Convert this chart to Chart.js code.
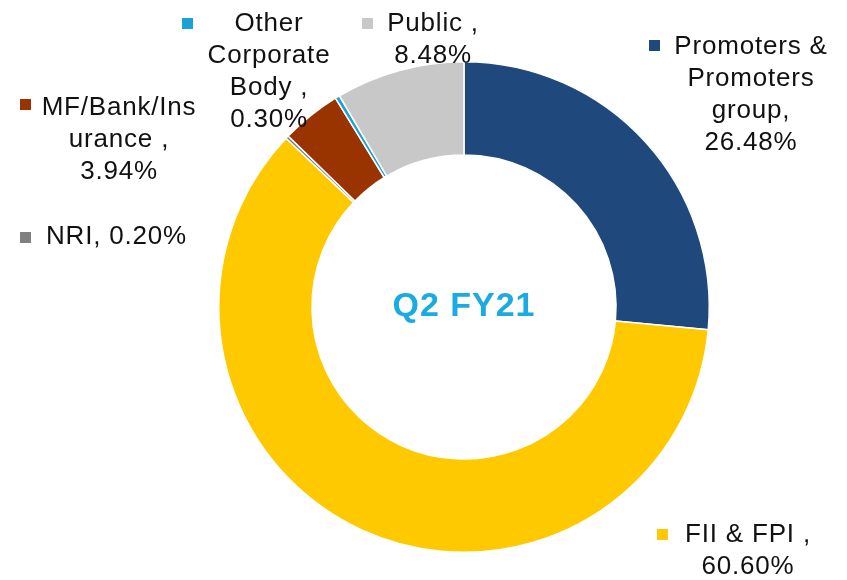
<!DOCTYPE html>
<html>
<head>
<meta charset="utf-8">
<script src="https://cdn.jsdelivr.net/npm/chart.js@4.4.1/dist/chart.umd.min.js"></script>
<style>
  html, body { margin: 0; padding: 0; background: #ffffff; }
  #wrap { width: 847px; height: 580px; position: relative; }
</style>
</head>
<body>
<div id="wrap"><canvas id="shareChart"></canvas></div>
<script>
// data
var categories = ["Promoters &\nPromoters\ngroup,", "FII & FPI ,", "NRI,", "MF/Bank/Ins\nurance ,", "Other\nCorporate\nBody ,", "Public ,"];
var shares = [26.48, 60.60, 0.20, 3.94, 0.30, 8.48];
var colours = ["#1F497D", "#FFC900", "#808080", "#993300", "#1BA1D8", "#C8C8C8"];
var centreTitle = "Q2 FY21";

// where each label sits (marker top-left, text centre x, first line y)
var labelPlaces = [
    { mx: 649, my: 40, tx: 751, ty: 47, inline: false },
    { mx: 657, my: 529, tx: 748, ty: 535, inline: false },
    { mx: 20, my: 232, tx: 46, ty: 237, inline: true },
    { mx: 20, my: 99, tx: 119, ty: 108, inline: false },
    { mx: 182, my: 18, tx: 269, ty: 24, inline: false },
    { mx: 362, my: 18, tx: 433, ty: 24, inline: false }
];

var labelPlugin = {
    id: "shareLabels",
    afterDraw: function (chart) {
        var ctx = chart.ctx;
        ctx.save();
        ctx.font = "26px 'Liberation Sans', Arial, sans-serif";
        ctx.letterSpacing = "0.8px";
        ctx.textBaseline = "middle";
        for (var i = 0; i < categories.length; i++) {
            var p = labelPlaces[i];
            var valueText = shares[i].toFixed(2) + "%";
            ctx.fillStyle = colours[i];
            ctx.fillRect(p.mx, p.my, 11, 11);
            ctx.fillStyle = "#111111";
            if (p.inline) {
                ctx.textAlign = "left";
                ctx.fillText(categories[i] + " " + valueText, p.tx, p.ty);
            } else {
                var lines = categories[i].split("\n").concat([valueText]);
                ctx.textAlign = "center";
                for (var j = 0; j < lines.length; j++) {
                    ctx.fillText(lines[j], p.tx, p.ty + j * 32);
                }
            }
        }
        // centre title
        var arc = chart.getDatasetMeta(0).data[0];
        ctx.font = "bold 34px 'Liberation Sans', Arial, sans-serif";
        ctx.letterSpacing = "1px";
        ctx.fillStyle = "#1AABE3";
        ctx.textAlign = "center";
        ctx.fillText(centreTitle, arc.x, arc.y);
        ctx.restore();
    }
};

var canvasElement = document.getElementById("shareChart");
var config = {
    type: "doughnut",
    data: {
        labels: categories,
        datasets: [{
            data: shares,
            backgroundColor: colours,
            borderColor: "#ffffff",
            borderWidth: 1.5
        }]
    },
    options: {
        responsive: true,
        maintainAspectRatio: false,
        animation: false,
        cutout: "62%",
        layout: { padding: { left: 218, right: 137, top: 61, bottom: 27 } },
        plugins: {
            legend: { display: false },
            tooltip: { enabled: false }
        }
    },
    plugins: [labelPlugin]
};

var shareChart = new Chart(canvasElement, config);
</script>
</body>
</html>
